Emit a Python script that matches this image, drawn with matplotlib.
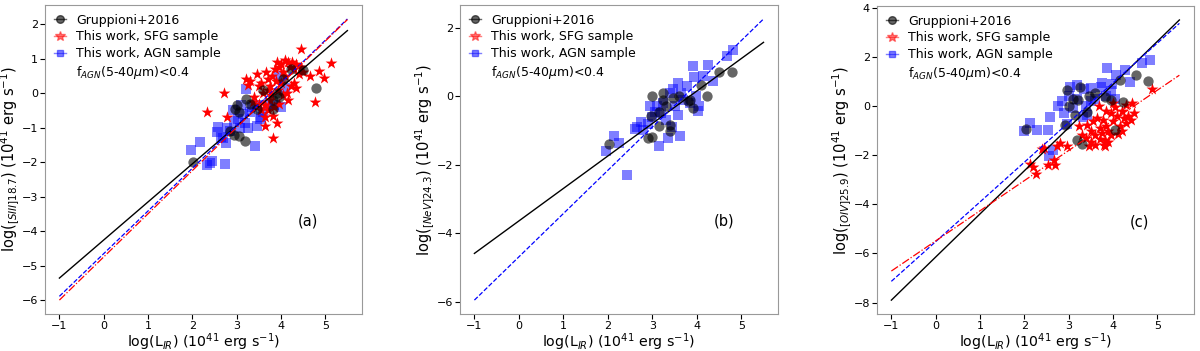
import numpy as np
import matplotlib.pyplot as plt
from matplotlib.lines import Line2D

# --- Daten: Panel (a) [SIII]18.7 ---
a_grup_x = [2.02, 2.85, 2.95, 3.05, 3.2, 2.97, 3.0, 3.05, 3.22, 3.3, 3.45, 3.6, 3.82, 3.82, 3.95, 4.05, 4.22, 4.5, 4.8, 3.9]
a_grup_y = [-2.0, -1.1, -1.2, -1.25, -1.37, -0.45, -0.35, -0.55, -0.18, -0.3, -0.47, 0.1, -0.2, -0.47, -0.12, 0.4, 0.7, 0.68, 0.14, 0.0]
a_sfg_x = [2.32, 2.72, 2.79, 4.46, 5.12, 4.86, 4.98, 4.77, 4.65, 3.82, 3.63, 3.9,
           3.22, 3.25, 3.3, 3.45, 3.5, 3.56, 3.67, 3.7, 3.75, 3.8, 3.86, 3.9, 3.95, 4.01, 4.05, 4.1,
           4.16, 4.2, 4.25, 4.3, 4.35, 4.4, 4.45, 4.5, 4.1, 4.23, 4.3, 4.17, 4.13, 3.93, 3.78, 3.63,
           3.71, 3.82, 3.75, 3.6, 3.55, 3.65, 3.85, 3.95, 4.0, 3.4, 3.36, 3.5, 4.05, 3.88, 3.7, 4.35]
a_sfg_y = [-0.54, 0.0, -0.68, 1.27, 0.86, 0.64, 0.43, -0.25, 0.5, -1.3, -0.96, -0.86,
           0.42, 0.25, 0.35, 0.55, 0.2, 0.3, 0.6, 0.4, 0.2, 0.5, 0.69, 0.9, 0.75, 0.84, 0.6, 0.95,
           0.89, 0.75, 0.9, 0.7, 0.85, 0.55, 0.75, 0.6, 0.5, 0.2, 0.3, -0.2, 0.0, 0.1, -0.05, -0.35,
           -0.5, -0.67, -0.2, 0.0, -0.5, -0.7, -0.4, -0.3, 0.3, -0.1, -0.25, -0.3, -0.05, 0.35, 0.1, 0.15]
a_agn_x = [1.98, 2.17, 2.39, 2.33, 2.45, 2.73, 3.41, 2.76, 2.58, 2.55, 2.65, 2.78, 2.7, 3.26, 3.08, 2.93,
           3.03, 2.92, 3.22, 3.52, 3.56, 3.3, 3.15, 3.1, 3.35, 3.45, 3.6, 3.7, 3.85, 4.0, 4.1, 3.95,
           3.2, 2.85, 3.45]
a_agn_y = [-1.65, -1.42, -2.02, -2.08, -1.97, -2.04, -1.54, -1.44, -0.98, -1.12, -1.28, -1.02, -1.3, -1.0, -1.0, -0.8,
           -0.76, -0.5, 0.11, -0.76, -0.7, -0.55, -0.6, -0.35, -0.4, -0.35, -0.55, -0.3, -0.35, -0.4, 0.15, 0.5,
           -0.85, -1.1, -0.95]

# --- Daten: Panel (b) [NeV]24.3 ---
b_grup_x = [2.02, 4.5, 4.79, 4.24, 2.99, 3.24, 2.98, 2.9, 3.0, 3.16, 3.39, 3.4, 3.24, 3.31, 3.16, 3.46, 3.6, 3.8, 3.92, 4.1, 3.85]
b_grup_y = [-1.4, 0.7, 0.7, 0.01, 0.0, 0.09, -0.59, -1.22, -1.18, -0.88, -0.83, -1.0, -0.12, -0.3, -0.45, -0.05, 0.0, -0.15, -0.35, 0.34, -0.1]
b_agn_x = [1.96, 2.14, 2.26, 2.42, 2.6, 2.75, 2.78, 2.94, 3.0, 3.16, 3.35, 3.62, 3.58, 3.2, 3.1, 3.39, 3.46, 3.58,
           3.77, 3.92, 3.94, 4.14, 4.26, 4.37, 4.03, 4.06, 4.67, 4.82, 3.7, 3.85, 3.5, 3.3, 2.9, 3.05, 3.65,
           3.25, 2.65, 3.45, 3.99]
b_agn_y = [-1.61, -1.17, -1.37, -2.29, -0.96, -0.74, -0.98, -0.3, -0.6, -1.45, -1.22, -1.17, -0.54, -0.5, -0.3, 0.09, 0.2, 0.38,
           0.29, 0.87, 0.57, 0.58, 0.92, 0.43, -0.44, -0.3, 1.16, 1.36, -0.1, -0.2, -0.3, -0.7, -0.8, -0.45, 0.1,
           -0.2, -0.9, -0.9, 0.0]

# --- Daten: Panel (c) [OIV]25.9 ---
c_grup_x = [2.03, 4.52, 4.8, 4.22, 4.05, 3.19, 3.3, 2.96, 3.26, 3.22, 3.0, 3.41, 3.6, 3.83, 3.95, 2.93, 3.15, 4.16, 3.45, 3.1]
c_grup_y = [-0.94, 1.27, 1.02, 0.15, -0.97, -1.4, -1.55, 0.65, 0.76, 0.25, 0.0, -0.23, 0.52, 0.38, 0.25, -0.77, -0.35, 1.06, 0.4, 0.3]
c_sfg_x = [4.89, 2.27, 2.12, 2.2, 2.54, 2.7, 2.68, 2.41, 2.44, 2.74, 2.8, 2.96, 3.45, 3.6, 3.8, 3.83, 3.82,
           3.23, 3.41, 3.68, 4.0, 4.3, 4.43, 4.47, 3.5, 3.6, 3.7, 3.75, 3.85, 3.9, 3.95, 4.0, 4.1, 4.15,
           4.2, 4.25, 4.3, 4.35, 4.12, 3.65, 3.55, 3.3, 3.4, 3.7, 3.95, 3.85, 4.05, 4.4, 3.5, 3.9, 4.2, 3.78]
c_sfg_y = [0.69, -2.76, -2.38, -2.5, -2.42, -2.4, -2.18, -1.75, -1.71, -1.64, -1.5, -1.62, -1.64, -1.6, -1.6, -1.64, -1.4,
           -0.83, -0.76, -0.02, 0.11, 0.05, 0.11, -0.3, -1.0, -1.2, -0.9, -1.1, -0.8, -1.0, -1.2, -0.6, -0.4, -0.8,
           -0.2, -0.5, -0.7, -0.4, -1.15, -0.5, -0.6, -1.2, -1.3, -1.35, -0.3, -0.2, -0.05, -0.55, -1.45, -1.45, -1.0, -0.55]
c_agn_x = [2.0, 2.14, 2.29, 2.53, 2.59, 2.76, 2.96, 2.55, 2.64, 3.04, 3.2, 3.35, 3.5, 3.73, 3.75, 3.95, 4.04,
           3.86, 4.07, 4.28, 4.39, 4.65, 4.84, 3.99, 3.85, 3.41, 3.32, 3.4, 3.1, 2.9, 3.6, 3.2, 3.5, 2.85, 3.0]
c_agn_y = [-1.0, -0.7, -0.97, -0.97, -0.43, 0.0, -0.73, -2.05, -1.77, 0.79, 0.85, 0.7, 0.75, 0.78, 0.92, 0.6, 0.3,
           1.53, 1.27, 1.46, 0.99, 1.73, 1.87, 0.9, 0.4, -0.36, -0.45, 0.0, -0.1, -0.3, 0.3, 0.3, 0.2, 0.2, 0.4]

# Fits: (Steigung, Achsenabschnitt)
a_fit_grup = (1.102, -4.25)
a_fit_agn = (1.235, -4.645)
a_fit_sfg = (1.249, -4.74)
b_fit_grup = (0.946, -3.634)
b_fit_agn = (1.26, -4.68)
c_fit_grup = (1.754, -6.146)
c_fit_agn = (1.615, -5.52)
c_fit_sfg = (1.226, -5.49)

fit_range = (-1, 5.5)

ylabels = [r"log($_{[SIII]18.7}$) (10$^{41}$ erg s$^{-1}$)",
           r"log($_{[NeV]24.3}$) (10$^{41}$ erg s$^{-1}$)",
           r"log($_{[OIV]25.9}$) (10$^{41}$ erg s$^{-1}$)"]
xlabel = r"log(L$_{IR}$) (10$^{41}$ erg s$^{-1}$)"
panel_tags = ["(a)", "(b)", "(c)"]

fig = plt.figure(figsize=(12, 3.51), dpi=100)
positions = [[0.0375, 0.105, 0.264, 0.881],
             [0.3833, 0.105, 0.265, 0.881],
             [0.7308, 0.105, 0.264, 0.878]]
axes = [fig.add_axes(p) for p in positions]

panels = [
    (a_grup_x, a_grup_y, a_sfg_x, a_sfg_y, a_agn_x, a_agn_y, a_fit_grup, a_fit_agn, a_fit_sfg),
    (b_grup_x, b_grup_y, None, None, b_agn_x, b_agn_y, b_fit_grup, b_fit_agn, None),
    (c_grup_x, c_grup_y, c_sfg_x, c_sfg_y, c_agn_x, c_agn_y, c_fit_grup, c_fit_agn, c_fit_sfg),
]

xx = np.linspace(fit_range[0], fit_range[1], 50)

for i, (ax, p) in enumerate(zip(axes, panels)):
    gx, gy, sx, sy, ax_, ay, fg, fa, fs = p
    ax.scatter(ax_, ay, marker="s", s=50, color="b", alpha=0.5, linewidths=0, zorder=2)
    if sx is not None:
        ax.scatter(sx, sy, marker="*", s=80, color="r", linewidths=0, zorder=3)
    ax.scatter(gx, gy, marker="o", s=55, color="k", alpha=0.6, linewidths=0, zorder=4)

    # Fitlinien
    ax.plot(xx, fg[0] * xx + fg[1], color="k", lw=1.0, zorder=5)
    ax.plot(xx, fa[0] * xx + fa[1], color="b", ls="--", lw=0.9, zorder=5)
    if fs is not None:
        ax.plot(xx, fs[0] * xx + fs[1], color="r", ls="-.", lw=0.9, zorder=5)

    ax.set_xticks([-1, 0, 1, 2, 3, 4, 5])
    if i == 0:
        ax.set_yticks(np.arange(-6, 3, 1))
    elif i == 1:
        ax.set_yticks(np.arange(-6, 3, 2))
    else:
        ax.set_yticks(np.arange(-8, 5, 2))
    ax.tick_params(labelsize=8, direction="out", length=3.5, color="k", pad=1.5)
    for sp in ax.spines.values():
        sp.set_color("0.6")
    ax.set_xlabel(xlabel, fontsize=10.2)
    ax.set_ylabel(ylabels[i], fontsize=10.5)
    # Achsentitel etwas enger an die Achse
    ax.xaxis.set_label_coords(0.5, -0.056)
    ax.yaxis.set_label_coords(-0.072, 0.5)
    ax.text(0.83, 0.30, panel_tags[i], transform=ax.transAxes, fontsize=10.5, ha="center", va="center")

    handles = [
        Line2D([0], [0], color="k", marker="o", markersize=5.5, alpha=0.6, lw=1),
        Line2D([0], [0], color="r", marker="*", markersize=7, alpha=0.5, lw=1),
        Line2D([0], [0], color="b", marker="s", markersize=5, alpha=0.5, lw=1),
        Line2D([0], [0], linestyle="none"),
    ]
    labels = ["Gruppioni+2016", "This work, SFG sample", "This work, AGN sample",
              r"f$_{AGN}$(5-40$\mu$m)<0.4"]
    ax.legend(handles, labels, loc="upper left", frameon=False, fontsize=9,
              handlelength=1.0, handletextpad=0.8, labelspacing=0.3,
              borderaxespad=0.3)

plt.savefig("out.png", dpi=100)
